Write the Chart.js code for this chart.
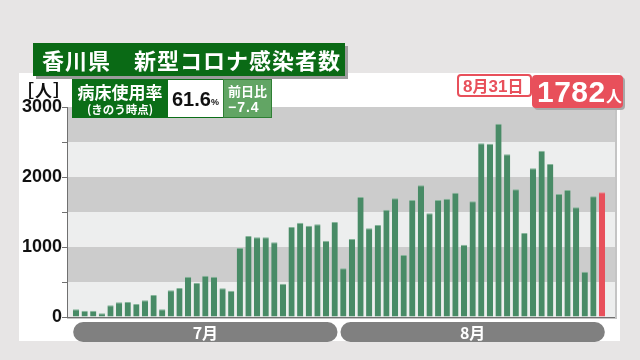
<!DOCTYPE html>
<html><head><meta charset="utf-8">
<script src="https://cdn.jsdelivr.net/npm/chart.js@4"></script>
<style>
html,body{margin:0;padding:0;background:#e7e5e5;}
#wrap{position:relative;width:640px;height:360px;overflow:hidden;}
canvas{position:absolute;left:0;top:0;}
.abs{position:absolute;box-sizing:border-box;white-space:nowrap;}
.jp{font-family:"Noto Sans CJK JP","Noto Sans",sans-serif;font-weight:700;}
.num{font-family:"Liberation Sans",Arial,sans-serif;font-weight:700;}
</style></head><body>
<div id="wrap">
<canvas id="c" width="640" height="360"></canvas>

<div class="abs jp" style="left:33px;top:43px;width:312px;height:33px;background:#0a6a15;box-shadow:3px 3px 0 #9c9c9c;color:#fff;font-size:22px;line-height:33px;padding-left:9px;letter-spacing:1px;">香川県　新型コロナ感染者数</div>

<div class="abs jp" style="left:17px;top:81px;font-size:17px;line-height:18px;color:#111;letter-spacing:1px;">［人］</div>

<div class="abs jp" style="left:72px;top:79px;width:96px;height:39px;background:#0b6e17;color:#fff;text-align:center;">
  <div style="font-size:17px;line-height:17px;margin-top:4px;">病床使用率</div>
  <div style="font-size:11.5px;line-height:13px;margin-top:3px;">(きのう時点)</div>
</div>
<div class="abs" style="left:168px;top:79px;width:55px;height:39px;background:#fff;border-top:1px solid #0b6e17;border-bottom:1px solid #0b6e17;">
  <span class="abs num" style="left:4px;top:8px;font-size:20px;line-height:22px;color:#111;">61.6</span>
  <span class="abs num" style="left:43px;top:17px;font-size:9px;line-height:11px;color:#111;">%</span>
</div>
<div class="abs jp" style="left:223px;top:79px;width:49px;height:39px;background:#62a564;border:1px solid #2f7f34;color:#fff;">
  <div class="abs" style="left:4px;top:2px;font-size:13px;line-height:17px;">前日比</div>
  <div class="abs num" style="left:4px;top:19px;font-size:14px;line-height:17px;letter-spacing:1px;">−7.4</div>
</div>

<div class="abs" style="left:457px;top:74px;width:75px;height:23px;background:#fff;border:2px solid #e8505b;border-radius:4px;color:#e8505b;line-height:19px;padding-left:4px;">
  <span class="num" style="font-size:17px;">8</span><span class="jp" style="font-size:16px;">月</span><span class="num" style="font-size:17px;">31</span><span class="jp" style="font-size:16px;">日</span>
</div>
<div class="abs" style="left:532px;top:75px;width:91px;height:33px;background:#e8505b;border-radius:4px;box-shadow:2px 2px 0 #a8a8a8;color:#fff;">
  <span class="abs num" style="left:5px;top:2px;font-size:30px;line-height:30px;letter-spacing:0.5px;">1782</span>
  <span class="abs jp" style="left:74px;top:11px;font-size:16px;line-height:18px;">人</span>
</div>
</div>

<script>
// ---- data ----
const months = ['7月', '8月'];
const monthDays = [31, 31];
const julyCases = [110, 90, 90, 52, 167, 210, 214, 186, 238, 314,
                   109, 381, 414, 576, 486, 590, 576, 409, 376, 986,
                   1157, 1138, 1138, 1067, 476, 1286, 1348, 1305, 1324, 1090, 1357];
const augustCases = [695, 1114, 1714, 1267, 1314, 1533, 1695, 886, 1671, 1881,
                     1481, 1671, 1690, 1776, 1033, 1652, 2481, 2476, 2762, 2324,
                     1824, 1200, 2124, 2376, 2186, 1757, 1814, 1567, 648, 1724, 1782];
const yTicks = [0, 1000, 2000, 3000];

const categories = [];
months.forEach((m, mi) => { for (let d = 1; d <= monthDays[mi]; d++) categories.push((mi + 7) + '/' + d); });
const values = julyCases.concat(augustCases);
const points = values.map((v, i) => ({x: i, y: v}));

const GREEN = '#488b66', RED = '#e8505b';
const barColors = values.map((v, i) => i === values.length - 1 ? RED : GREEN);
const barEdges = values.map((v, i) => i === values.length - 1 ? '#f08a92' : '#86b59a');

const X_MIN = -1.044, X_MAX = 62.508;

const panelPlugin = {
  id: 'panel',
  beforeDraw(chart) {
    const ctx = chart.ctx, a = chart.chartArea, y = chart.scales.y;
    ctx.save();
    ctx.fillStyle = '#ffffff';
    ctx.fillRect(19, 73, 601, 268);
    for (let v = 0; v < 3000; v += 500) {
      const yt = y.getPixelForValue(v + 500), yb = y.getPixelForValue(v);
      ctx.fillStyle = (v / 500) % 2 === 1 ? '#cccccc' : '#edeeee';
      ctx.fillRect(a.left, yt, a.right - a.left, yb - yt);
    }
    ctx.fillStyle = '#c4c4c4';
    ctx.fillRect(a.right, a.top - 6, 2, a.bottom - a.top + 8);
    ctx.fillRect(a.left, a.bottom, a.right - a.left + 2, 2);
    ctx.restore();
  },
  afterDatasetsDraw(chart) {
    const ctx = chart.ctx, a = chart.chartArea;
    ctx.save();
    ctx.strokeStyle = '#707070';
    ctx.lineWidth = 1;
    ctx.beginPath();
    ctx.moveTo(a.left, a.bottom + 0.5);
    ctx.lineTo(a.right, a.bottom + 0.5);
    ctx.stroke();
    ctx.restore();
  },
  afterDraw(chart) {
    const ctx = chart.ctx, x = chart.scales.x;
    const step = x.getPixelForValue(1) - x.getPixelForValue(0);
    ctx.save();
    let start = 0;
    months.forEach((m, mi) => {
      const end = start + monthDays[mi] - 1;
      const l = x.getPixelForValue(start) - step / 2 + 1.5;
      const r = x.getPixelForValue(end) + step / 2 - 1.5;
      const t = 322, h = 20;
      ctx.fillStyle = '#808080';
      ctx.beginPath();
      ctx.roundRect(l, t, r - l, h, h / 2);
      ctx.fill();
      ctx.fillStyle = '#ffffff';
      ctx.font = 'bold 16px "Noto Sans CJK JP", sans-serif';
      ctx.textAlign = 'center';
      ctx.textBaseline = 'middle';
      ctx.fillText(m, (l + r) / 2, t + h / 2 + 1);
      start = end + 1;
    });
    ctx.restore();
  }
};

new Chart(document.getElementById('c'), {
  type: 'bar',
  data: {
    labels: categories,
    datasets: [{
      data: points,
      backgroundColor: barColors,
      borderColor: barEdges,
      borderWidth: {top: 1, left: 0, right: 0, bottom: 0},
      barPercentage: 0.72,
      categoryPercentage: 1
    }]
  },
  options: {
    responsive: false,
    animation: false,
    devicePixelRatio: 1,
    layout: {padding: {left: 0, right: 25, top: 107, bottom: 43}},
    plugins: {legend: {display: false}, tooltip: {enabled: false}},
    scales: {
      x: {
        type: 'linear',
        display: false,
        bounds: 'data',
        offset: false,
        min: X_MIN,
        max: X_MAX,
        afterDataLimits(s) { s.min = X_MIN; s.max = X_MAX; }
      },
      y: {
        min: 0, max: 3000,
        afterFit(s) { s.width = 67; },
        afterBuildTicks(s) { s.ticks = [0, 500, 1000, 1500, 2000, 2500, 3000].map(v => ({value: v})); },
        ticks: {
          padding: 0,
          color: '#111',
          font: {family: '"Liberation Sans", Arial, sans-serif', weight: 'bold', size: 18},
          callback: v => yTicks.includes(v) ? String(v) : ''
        },
        grid: {drawOnChartArea: false, drawTicks: true, tickLength: 5, color: '#707070'},
        border: {color: '#707070', width: 1}
      }
    }
  },
  plugins: [panelPlugin]
});
</script>
</body></html>
